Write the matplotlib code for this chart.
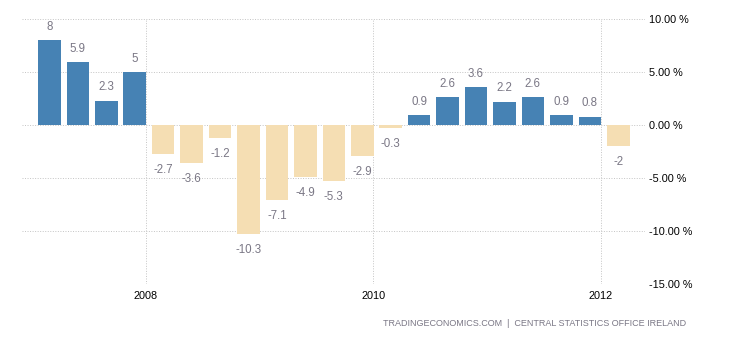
import numpy as np
import matplotlib.pyplot as plt

plt.rcParams['font.family'] = ['Liberation Sans', 'DejaVu Sans']

# Quarterly GDP growth, Ireland, 2007 Q1 - 2012 Q1
values = [8, 5.9, 2.3, 5, -2.7, -3.6, -1.2, -10.3, -7.1, -4.9, -5.3, -2.9,
          -0.3, 0.9, 2.6, 3.6, 2.2, 2.6, 0.9, 0.8, -2]
labels = ['8', '5.9', '2.3', '5', '-2.7', '-3.6', '-1.2', '-10.3', '-7.1', '-4.9',
          '-5.3', '-2.9', '-0.3', '0.9', '2.6', '3.6', '2.2', '2.6', '0.9', '0.8', '-2']
year_ticks = [2008, 2010, 2012]
y_ticks = [10, 5, 0, -5, -10, -15]

# bar positions in fractional years
x = 2007.155 + 0.25 * np.arange(len(values))
colors = ['#4682B4' if v >= 0 else '#F5DEB3' for v in values]

fig = plt.figure(figsize=(7.3, 3.4), dpi=100)
ax = fig.add_axes([22 / 730, 56 / 340, 623 / 730, 265 / 340])

ax.bar(x, values, width=0.198, color=colors, zorder=2)

for xi, v, lab in zip(x, values, labels):
    off = 9.5 if v >= 0 else -11.5
    ax.annotate(lab, (xi, v), xytext=(0, off), textcoords='offset points',
                ha='center', va='center', fontsize=8.3, color='#7a7785')

ax.set_xlim(2006.914, 2012.39)
ax.set_ylim(-15, 10)
ax.set_xticks(year_ticks)
ax.set_xticklabels([str(y) for y in year_ticks], fontsize=7.8)
ax.set_yticks(y_ticks)
ax.set_yticklabels(['%.2f %%' % t for t in y_ticks], fontsize=7.8)
ax.yaxis.tick_right()
ax.tick_params(axis='y', length=0, pad=3)
ax.tick_params(axis='x', length=0, pad=5)

ax.grid(True, color='#c4c4c4', linestyle=(0, (1, 1.6)), linewidth=0.7, zorder=0)
for s in ax.spines.values():
    s.set_visible(False)

fig.text(686 / 730, 1 - 324 / 340,
         'TRADINGECONOMICS.COM  |  CENTRAL STATISTICS OFFICE IRELAND',
         ha='right', va='center', fontsize=6.5, color='#7a7785')

fig.savefig('out.png', dpi=100)
